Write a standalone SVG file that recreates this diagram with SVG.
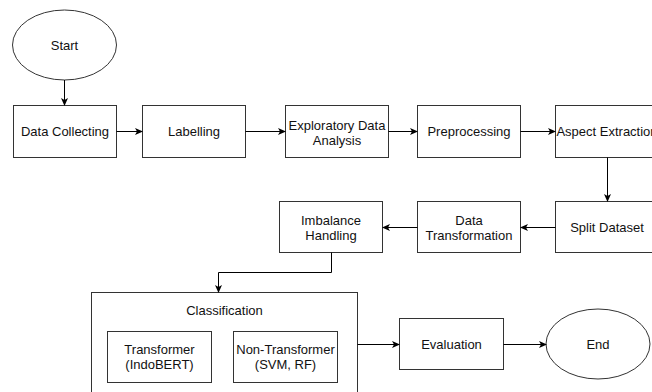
<svg xmlns="http://www.w3.org/2000/svg" width="652" height="392" viewBox="0 0 652 392">
<defs>
<style>
.box{fill:#fff;stroke:#333;stroke-width:1}
.t{font-family:"Liberation Sans",Arial,sans-serif;font-size:13px;fill:#111;text-anchor:middle}
.c{fill:none;stroke:#000;stroke-width:1;marker-end:url(#ah)}
</style>
<marker id="ah" markerWidth="8" markerHeight="8" refX="7" refY="3.5" orient="auto" markerUnits="userSpaceOnUse">
<path d="M0,0 L8,3.5 L0,7 L2,3.5 z" fill="#000"/>
</marker>
</defs>
<rect width="652" height="392" fill="#fff"/>
<g id="start"><ellipse class="box" cx="64.5" cy="45" rx="52" ry="35"/><text class="t" x="64.5" y="50">Start</text></g>
<g id="data-collecting"><rect class="box" x="13.5" y="105.5" width="103" height="52"/><text class="t" x="65" y="136">Data Collecting</text></g>
<g id="labelling"><rect class="box" x="142.5" y="105.5" width="103" height="52"/><text class="t" x="194" y="136">Labelling</text></g>
<g id="eda"><rect class="box" x="285.5" y="105.5" width="103" height="52"/><text class="t" x="337" y="129.5">Exploratory Data</text><text class="t" x="337" y="144.5">Analysis</text></g>
<g id="preprocessing"><rect class="box" x="417.5" y="105.5" width="103" height="52"/><text class="t" x="469" y="136">Preprocessing</text></g>
<g id="aspect-extraction"><rect class="box" x="555.5" y="105.5" width="103" height="52"/><text class="t" x="607" y="136">Aspect Extraction</text></g>
<g id="split-dataset"><rect class="box" x="555.5" y="201.5" width="103" height="51"/><text class="t" x="607" y="232">Split Dataset</text></g>
<g id="data-transformation"><rect class="box" x="417.5" y="201.5" width="103" height="51"/><text class="t" x="469" y="224.5">Data</text><text class="t" x="469" y="239.5">Transformation</text></g>
<g id="imbalance-handling"><rect class="box" x="279.5" y="201.5" width="103" height="51"/><text class="t" x="331" y="224.5">Imbalance</text><text class="t" x="331" y="239.5">Handling</text></g>
<g id="classification"><rect class="box" x="91.5" y="292.5" width="266" height="110"/><text class="t" x="224.5" y="315">Classification</text>
<g id="transformer"><rect class="box" x="107.5" y="331.5" width="104" height="51"/><text class="t" x="159.5" y="354">Transformer</text><text class="t" x="159.5" y="369">(IndoBERT)</text></g>
<g id="non-transformer"><rect class="box" x="233.5" y="331.5" width="104" height="51"/><text class="t" x="285.5" y="354">Non-Transformer</text><text class="t" x="285.5" y="369">(SVM, RF)</text></g>
</g>
<g id="evaluation"><rect class="box" x="399.5" y="318.5" width="104" height="51"/><text class="t" x="451.5" y="349">Evaluation</text></g>
<g id="end"><ellipse class="box" cx="598" cy="344" rx="52" ry="35"/><text class="t" x="598" y="349">End</text></g>
<g id="connectors">
<path class="c" d="M64.5,80 V105"/>
<path class="c" d="M116.5,131.5 H142"/>
<path class="c" d="M245.5,131.5 H285"/>
<path class="c" d="M388.5,131.5 H417"/>
<path class="c" d="M520.5,131.5 H555"/>
<path class="c" d="M607.5,157.5 V201"/>
<path class="c" d="M555.5,227.5 H521"/>
<path class="c" d="M417.5,227.5 H383"/>
<path class="c" d="M331.5,252.5 V272.5 H218.5 V292"/>
<path class="c" d="M357.5,344.5 H399"/>
<path class="c" d="M503.5,344.5 H546"/>
</g>
</svg>
